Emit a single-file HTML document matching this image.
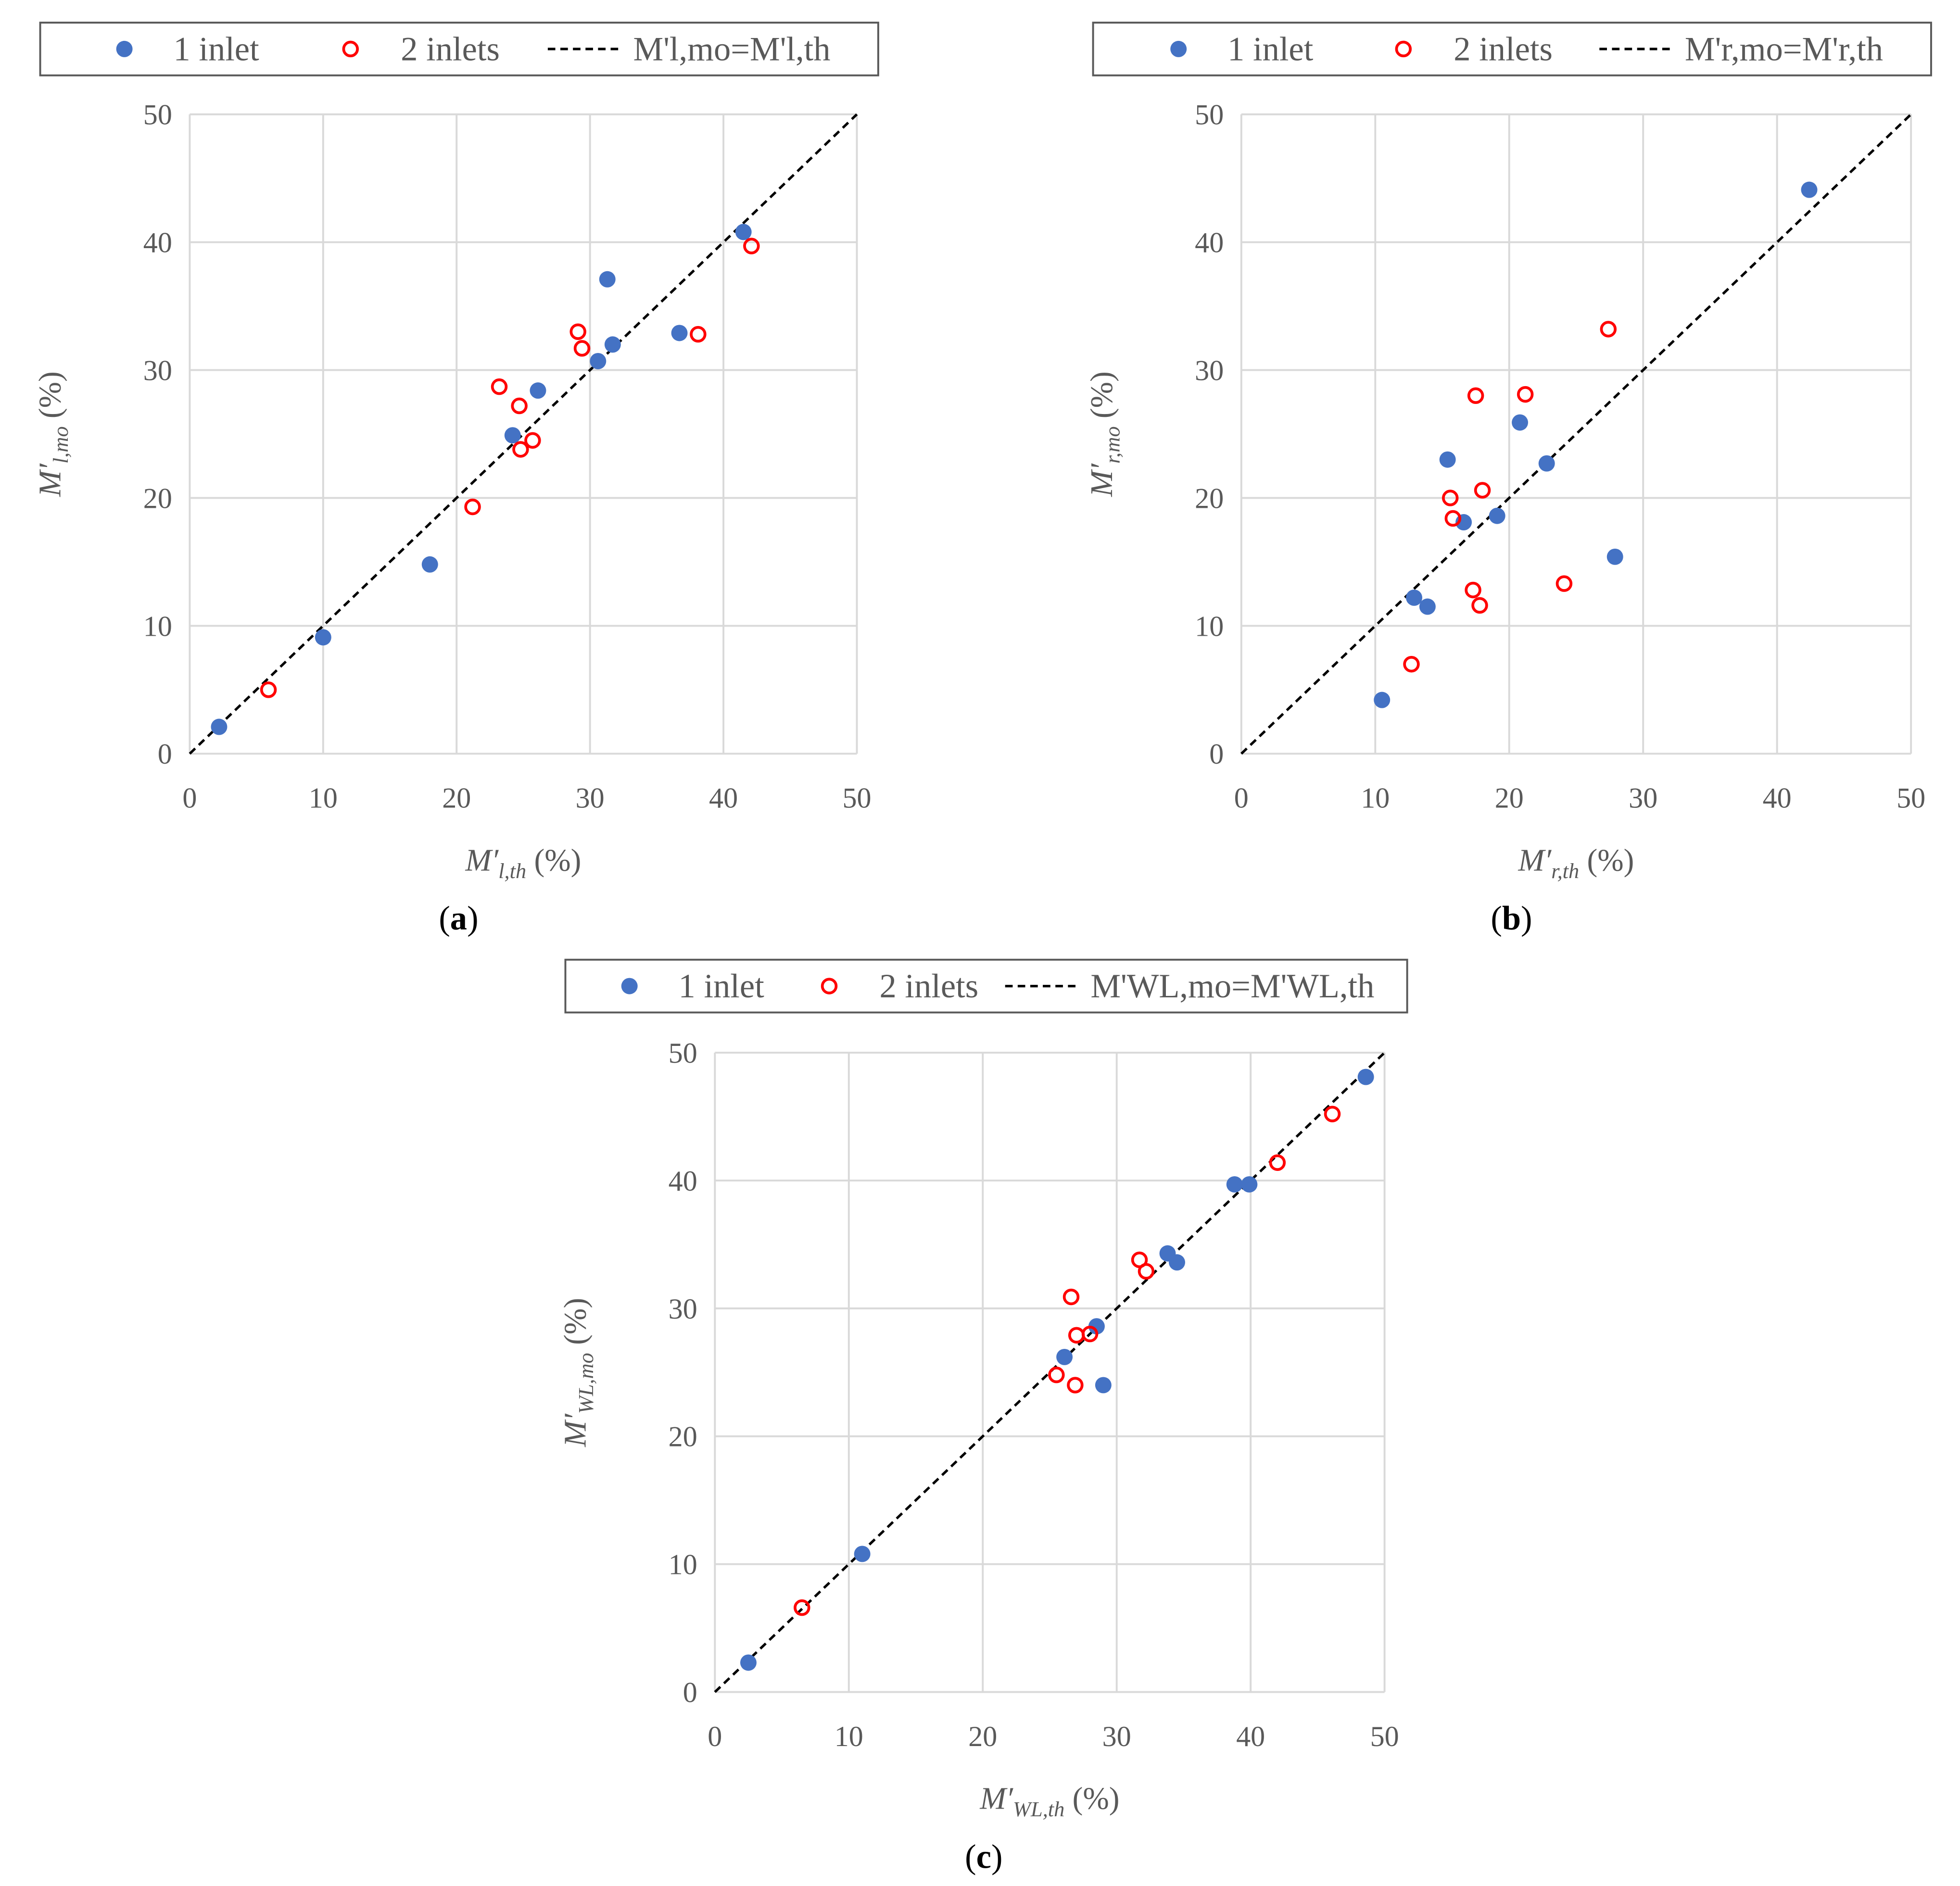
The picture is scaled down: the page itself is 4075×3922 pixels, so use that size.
<!DOCTYPE html>
<html><head><meta charset="utf-8"><style>
html,body{margin:0;padding:0;background:#fff}
svg{display:block}
text{font-family:"Liberation Serif",serif}
</style></head><body>
<svg id="s" width="4075" height="3922" viewBox="0 0 1560 1501.4" xmlns="http://www.w3.org/2000/svg">
<rect width="1560" height="1502" fill="#fff"/>
</svg>
<script>
const ticks=[0,10,20,30,40,50];
const aBlueX=[2.2,10,18,24.2,26.1,30.6,31.3,31.7,36.7,41.5];
const aBlueY=[2.1,9.1,14.8,24.9,28.4,30.7,37.1,32,32.9,40.8];
const aRedX=[5.9,21.2,23.2,24.7,24.8,25.7,29.1,29.4,38.1,42.1];
const aRedY=[5,19.3,28.7,27.2,23.8,24.5,33,31.7,32.8,39.7];
const bBlueX=[10.5,12.9,13.9,15.4,16.6,19.1,20.8,22.8,27.9,42.4];
const bBlueY=[4.2,12.2,11.5,23,18.1,18.6,25.9,22.7,15.4,44.1];
const bRedX=[12.7,15.6,15.8,17.3,17.5,17.8,18,21.2,24.1,27.4];
const bRedY=[7,20,18.4,12.8,28,11.6,20.6,28.1,13.3,33.2];
const cBlueX=[2.5,11,26.1,28.5,29,33.8,34.5,38.8,39.9,48.6];
const cBlueY=[2.3,10.8,26.2,28.6,24,34.3,33.6,39.7,39.7,48.1];
const cRedX=[6.5,25.5,26.6,26.9,27,28,31.7,32.2,42,46.1];
const cRedY=[6.6,24.8,30.9,24,27.9,28,33.8,32.9,41.4,45.2];

const NS="http://www.w3.org/2000/svg";
const svg=document.getElementById('s');
function mk(tag,attrs,parent,txt){const e=document.createElementNS(NS,tag);for(const k in attrs)e.setAttribute(k,attrs[k]);if(txt!==undefined)e.innerHTML=txt;(parent||svg).appendChild(e);return e;}

function panel(id,x0,x1,y0,y1,bx,by,rx,ry,leg,lx,lw,ly,off,xsub,ysub,cap,capx,capy){
  const g=mk('g',{},svg);
  
  
  const sx=v=>x0+(x1-x0)*v/50, sy=v=>y0-(y0-y1)*v/50;
  ticks.forEach(t=>{
    const gv=mk('line',{x1:sx(t),x2:sx(t),y1:y0,y2:y1,stroke:'#d9d9d9','stroke-width':1.5},g);
    
    
    const gh=mk('line',{x1:x0,x2:x1,y1:sy(t),y2:sy(t),stroke:'#d9d9d9','stroke-width':1.5},g);
    
    
    const tx=mk('text',{x:sx(t),y:y0+43,'text-anchor':'middle','font-size':23,fill:'#595959'},g,t);
    
    
    const ty=mk('text',{x:x0-14,y:sy(t)+8,'text-anchor':'end','font-size':23,fill:'#595959'},g,t);
    
    
  });
  const dl=mk('line',{x1:sx(0),y1:sy(0),x2:sx(50),y2:sy(50),stroke:'#000','stroke-width':2,'stroke-dasharray':'6,4'},g);
  
  
  bx.forEach((v,i)=>{
    const c=mk('circle',{cx:sx(v),cy:sy(by[i]),r:6.5,fill:'#4472c4'},g);
    
    
  });
  rx.forEach((v,i)=>{
    const c=mk('circle',{cx:sx(v),cy:sy(ry[i]),r:5.5,fill:'none',stroke:'#ff0000','stroke-width':2.2},g);
    
    
  });
  const xt=mk('text',{x:(x0+x1)/2,y:y0+93,'text-anchor':'middle','font-size':25,fill:'#595959'},g,
    '<tspan font-style="italic">M′</tspan><tspan font-style="italic" font-size="17" dy="6">'+xsub+'</tspan><tspan dy="-6"> (%)</tspan>');
  
  
  const cy=(y0+y1)/2, cxp=x0-103;
  const yt=mk('text',{x:cxp,y:cy,'text-anchor':'middle','font-size':25,fill:'#595959',transform:'rotate(-90 '+cxp+' '+cy+')'},g,
    '<tspan font-style="italic">M′</tspan><tspan font-style="italic" font-size="17" dy="6">'+ysub+'</tspan><tspan dy="-6"> (%)</tspan>');
  
  
  const lg=mk('g',{},g);
  
  
  mk('rect',{x:lx,y:ly,width:lw,height:42,fill:'#fff',stroke:'#595959','stroke-width':1.5},lg);
  const e1=mk('circle',{cx:lx+off[0],cy:ly+21,r:6.5,fill:'#4472c4'},lg);
  
  
  mk('text',{x:lx+off[0]+39,y:ly+30,'font-size':27,fill:'#595959'},lg,'1 inlet');
  const e2=mk('circle',{cx:lx+off[1],cy:ly+21,r:5.5,fill:'none',stroke:'#f00','stroke-width':2.2},lg);
  
  
  mk('text',{x:lx+off[1]+40,y:ly+30,'font-size':27,fill:'#595959'},lg,'2 inlets');
  const e3=mk('line',{x1:lx+off[2],x2:lx+off[2]+60,y1:ly+21,y2:ly+21,stroke:'#000','stroke-width':2,'stroke-dasharray':'6,4'},lg);
  
  
  mk('text',{x:lx+off[2]+68,y:ly+30,'font-size':27,fill:'#595959'},lg,leg);
  const ct=mk('text',{x:capx,y:capy,'text-anchor':'middle','font-size':27,fill:'#000'},g,'(<tspan font-weight="bold">'+cap+'</tspan>)');
  
  
}
panel('a',151,682,600,91,aBlueX,aBlueY,aRedX,aRedY,"M'l,mo=M'l,th",32,667,18,[67,247,404],'l,th','l,mo','a',365,740);
panel('b',988,1521,600,91,bBlueX,bBlueY,bRedX,bRedY,"M'r,mo=M'r,th",870,667,18,[68,247,403],'r,th','r,mo','b',1203,740);
panel('c',569,1102,1347,838,cBlueX,cBlueY,cRedX,cRedY,"M'WL,mo=M'WL,th",450,670,764,[51,210,350],'WL,th','WL,mo','c',783,1487);
</script>
</body></html>
